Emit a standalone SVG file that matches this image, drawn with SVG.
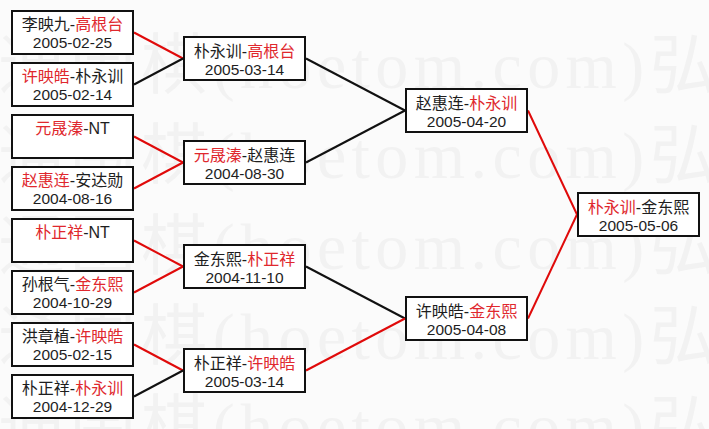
<svg xmlns="http://www.w3.org/2000/svg" width="709" height="429" viewBox="0 0 709 429">
<style>
.bg{fill:#fbfbfb}
.wm{font-family:"Liberation Serif","Noto Sans CJK SC",serif;font-size:66px;fill:#f2f2f2}
.box{fill:#ffffff;stroke:#111;stroke-width:2}
.t1{font-family:"Liberation Sans","Noto Sans CJK SC",sans-serif;font-size:16px;fill:#1e1e1e;text-anchor:middle}
.d{font-family:"Liberation Sans","Noto Sans CJK SC",sans-serif;font-size:15.5px;fill:#1e1e1e;text-anchor:middle}
.r{fill:#e0282e}
.lr{stroke:#e00a0a;stroke-width:2;fill:none}
.lb{stroke:#111;stroke-width:2;fill:none}
</style>
<rect class="bg" x="0" y="0" width="709" height="429"/>
<g id="watermark">
<text class="wm" x="-73" y="88" textLength="1003" lengthAdjust="spacing">弘通围棋(hoetom.com)弘通围棋</text>
<text class="wm" x="-73" y="178" textLength="1003" lengthAdjust="spacing">弘通围棋(hoetom.com)弘通围棋</text>
<text class="wm" x="-73" y="269" textLength="1003" lengthAdjust="spacing">弘通围棋(hoetom.com)弘通围棋</text>
<text class="wm" x="-73" y="359" textLength="1003" lengthAdjust="spacing">弘通围棋(hoetom.com)弘通围棋</text>
<text class="wm" x="-73" y="449" textLength="1003" lengthAdjust="spacing">弘通围棋(hoetom.com)弘通围棋</text>
</g>
<g id="connectors">
<line class="lr" x1="134" y1="32.5" x2="183" y2="58.5"/>
<line class="lb" x1="134" y1="84.5" x2="183" y2="58.5"/>
<line class="lr" x1="134" y1="136.5" x2="183" y2="162.5"/>
<line class="lr" x1="134" y1="188.5" x2="183" y2="162.5"/>
<line class="lr" x1="134" y1="240.5" x2="183" y2="266.5"/>
<line class="lr" x1="134" y1="292.5" x2="183" y2="266.5"/>
<line class="lr" x1="134" y1="344.5" x2="183" y2="370.5"/>
<line class="lb" x1="134" y1="396.5" x2="183" y2="370.5"/>
<line class="lb" x1="306" y1="58.5" x2="405" y2="110.5"/>
<line class="lb" x1="306" y1="162.5" x2="405" y2="110.5"/>
<line class="lb" x1="306" y1="266.5" x2="405" y2="318.5"/>
<line class="lr" x1="306" y1="370.5" x2="405" y2="318.5"/>
<line class="lr" x1="528" y1="110.5" x2="577" y2="214.5"/>
<line class="lr" x1="528" y1="318.5" x2="577" y2="214.5"/>
</g>
<g id="m1"><rect class="box" x="12" y="11" width="121" height="43"/>
<text class="t1" x="72.5" y="30">李映九-<tspan class="r">高根台</tspan></text>
<text class="d" x="72.5" y="48">2005-02-25</text></g>
<g id="m2"><rect class="box" x="12" y="63" width="121" height="43"/>
<text class="t1" x="72.5" y="82"><tspan class="r">许映皓</tspan>-朴永训</text>
<text class="d" x="72.5" y="100">2005-02-14</text></g>
<g id="m3"><rect class="box" x="12" y="115" width="121" height="43"/>
<text class="t1" x="72.5" y="134"><tspan class="r">元晟溱</tspan>-NT</text></g>
<g id="m4"><rect class="box" x="12" y="167" width="121" height="43"/>
<text class="t1" x="72.5" y="186"><tspan class="r">赵惠连</tspan>-安达勋</text>
<text class="d" x="72.5" y="204">2004-08-16</text></g>
<g id="m5"><rect class="box" x="12" y="219" width="121" height="43"/>
<text class="t1" x="72.5" y="238"><tspan class="r">朴正祥</tspan>-NT</text></g>
<g id="m6"><rect class="box" x="12" y="271" width="121" height="43"/>
<text class="t1" x="72.5" y="290">孙根气-<tspan class="r">金东熙</tspan></text>
<text class="d" x="72.5" y="308">2004-10-29</text></g>
<g id="m7"><rect class="box" x="12" y="323" width="121" height="43"/>
<text class="t1" x="72.5" y="342">洪章植-<tspan class="r">许映皓</tspan></text>
<text class="d" x="72.5" y="360">2005-02-15</text></g>
<g id="m8"><rect class="box" x="12" y="375" width="121" height="43"/>
<text class="t1" x="72.5" y="394">朴正祥-<tspan class="r">朴永训</tspan></text>
<text class="d" x="72.5" y="412">2004-12-29</text></g>
<g id="q1"><rect class="box" x="184" y="37" width="121" height="43"/>
<text class="t1" x="244.5" y="57">朴永训-<tspan class="r">高根台</tspan></text>
<text class="d" x="244.5" y="75">2005-03-14</text></g>
<g id="q2"><rect class="box" x="184" y="141" width="121" height="43"/>
<text class="t1" x="244.5" y="161"><tspan class="r">元晟溱</tspan>-赵惠连</text>
<text class="d" x="244.5" y="179">2004-08-30</text></g>
<g id="q3"><rect class="box" x="184" y="245" width="121" height="43"/>
<text class="t1" x="244.5" y="265">金东熙-<tspan class="r">朴正祥</tspan></text>
<text class="d" x="244.5" y="283">2004-11-10</text></g>
<g id="q4"><rect class="box" x="184" y="349" width="121" height="43"/>
<text class="t1" x="244.5" y="369">朴正祥-<tspan class="r">许映皓</tspan></text>
<text class="d" x="244.5" y="387">2005-03-14</text></g>
<g id="s1"><rect class="box" x="406" y="89" width="121" height="43"/>
<text class="t1" x="466.5" y="109">赵惠连-<tspan class="r">朴永训</tspan></text>
<text class="d" x="466.5" y="127">2005-04-20</text></g>
<g id="s2"><rect class="box" x="406" y="297" width="121" height="43"/>
<text class="t1" x="466.5" y="317">许映皓-<tspan class="r">金东熙</tspan></text>
<text class="d" x="466.5" y="335">2005-04-08</text></g>
<g id="final"><rect class="box" x="578" y="193" width="121" height="43"/>
<text class="t1" x="638.5" y="213"><tspan class="r">朴永训</tspan>-金东熙</text>
<text class="d" x="638.5" y="231">2005-05-06</text></g>
</svg>
